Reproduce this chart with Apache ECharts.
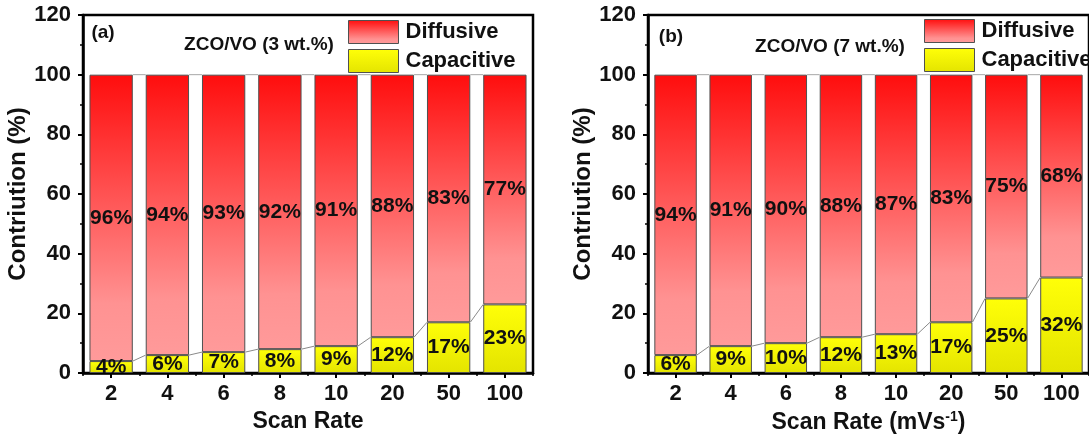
<!DOCTYPE html>
<html>
<head>
<meta charset="utf-8">
<script src="https://cdn.jsdelivr.net/npm/echarts@6/dist/echarts.min.js"></script>
<style>
  html, body { margin: 0; padding: 0; background: #fff; }
  #chart { width: 1089px; height: 441px; }
</style>
</head>
<body>
<div id="chart"></div>
<script>
// Scan rates (mV/s)
const scanRates = ['2', '4', '6', '8', '10', '20', '50', '100'];

// Panel (a): ZCO/VO (3 wt.%)
const capacitiveA = [4, 6, 7, 8, 9, 12, 17, 23];
const diffusiveA = [96, 94, 93, 92, 91, 88, 83, 77];

// Panel (b): ZCO/VO (7 wt.%)
const capacitiveB = [6, 9, 10, 12, 13, 17, 25, 32];
const diffusiveB = [94, 91, 90, 88, 87, 83, 75, 68];

const yTicks = { min: 0, max: 120, interval: 20 };

const FONT = '"Liberation Sans", Arial, sans-serif';
const BAR_RATIO = 0.77;

const diffusiveFill = new echarts.graphic.LinearGradient(0, 0, 0, 1, [
  { offset: 0, color: '#ff0d0d' },
  { offset: 0.8, color: '#ff9292' },
  { offset: 1, color: '#ff9a9a' }
]);
const capacitiveFill = new echarts.graphic.LinearGradient(0, 0, 0, 1, [
  { offset: 0, color: '#ffff08' },
  { offset: 1, color: '#e4e400' }
]);

const barLabel = {
  show: true,
  position: 'inside',
  formatter: '{c}%',
  color: '#111',
  fontFamily: FONT,
  fontWeight: 'bold',
  fontSize: 21
};

// Thin connector lines from the top-right corner of one bar to the top-left corner of the next
function connectorSeries(tops, gridIdx, color) {
  const data = [];
  for (let i = 0; i < tops.length - 1; i++) data.push([i, tops[i], tops[i + 1]]);
  return {
    type: 'custom',
    xAxisIndex: gridIdx * 2,
    yAxisIndex: gridIdx,
    silent: true,
    z: 1,
    encode: { x: 0, y: [1, 2] },
    data: data,
    renderItem: function (params, api) {
      const i = api.value(0);
      const p1 = api.coord([i, api.value(1)]);
      const p2 = api.coord([i + 1, api.value(2)]);
      const half = api.size([1, 0])[0] * BAR_RATIO / 2;
      return {
        type: 'line',
        shape: { x1: p1[0] + half, y1: p1[1], x2: p2[0] - half, y2: p2[1] },
        style: { stroke: color, lineWidth: 1 }
      };
    }
  };
}

function barSeries(name, values, gridIdx, fill) {
  return {
    name: name,
    type: 'bar',
    stack: 'total' + gridIdx,
    xAxisIndex: gridIdx * 2,
    yAxisIndex: gridIdx,
    barWidth: (BAR_RATIO * 100) + '%',
    data: values,
    z: 2,
    itemStyle: { color: fill, borderColor: '#505050', borderWidth: 1 },
    label: barLabel,
    emphasis: { disabled: true }
  };
}

function xAxes(gridIdx, title) {
  return [
    {
      type: 'category',
      gridIndex: gridIdx,
      position: 'bottom',
      data: scanRates,
      boundaryGap: true,
      axisLine: { show: true, lineStyle: { color: '#000', width: 2.5 } },
      axisTick: { show: true, alignWithLabel: true, length: 5, lineStyle: { color: '#000', width: 2 } },
      axisLabel: { color: '#111', fontFamily: FONT, fontWeight: 'bold', fontSize: 22, margin: 10 },
      splitLine: { show: false },
      name: title,
      nameLocation: 'middle',
      nameGap: 36,
      nameTextStyle: {
        color: '#111', fontFamily: FONT, fontWeight: 'bold', fontSize: 23,
        rich: {
          sup: { fontFamily: FONT, fontWeight: 'bold', fontSize: 14, color: '#111', padding: [0, 0, 12, 0] }
        }
      }
    },
    {
      // boundary ticks between categories
      type: 'category',
      gridIndex: gridIdx,
      position: 'bottom',
      data: scanRates,
      boundaryGap: true,
      axisLine: { show: false },
      axisTick: { show: true, alignWithLabel: false, length: 3, lineStyle: { color: '#000', width: 1.5 } },
      axisLabel: { show: false },
      splitLine: { show: false }
    }
  ];
}

function yAxis(gridIdx, gap) {
  return {
    type: 'value',
    gridIndex: gridIdx,
    min: yTicks.min,
    max: yTicks.max,
    interval: yTicks.interval,
    axisLine: { show: true, lineStyle: { color: '#000', width: 2.5 } },
    axisTick: { show: true, length: 5, lineStyle: { color: '#000', width: 2 } },
    minorTick: { show: true, splitNumber: 2, length: 3, lineStyle: { color: '#000', width: 1.5 } },
    axisLabel: { color: '#111', fontFamily: FONT, fontWeight: 'bold', fontSize: 22, margin: 12 },
    splitLine: { show: false },
    name: 'Contriution (%)',
    nameLocation: 'middle',
    nameGap: gap,
    nameTextStyle: { color: '#111', fontFamily: FONT, fontWeight: 'bold', fontSize: 24 }
  };
}

function legendAt(left, top) {
  return {
    data: ['Diffusive', 'Capacitive'],
    orient: 'vertical',
    left: left,
    top: top,
    padding: 0,
    icon: 'rect',
    itemWidth: 50,
    itemHeight: 23,
    itemGap: 5,
    selectedMode: false,
    itemStyle: { borderColor: '#505050', borderWidth: 1 },
    textStyle: { color: '#111', fontFamily: FONT, fontWeight: 'bold', fontSize: 22, padding: [0, 0, 0, 2] }
  };
}

function textAt(x, y, text, size) {
  return {
    type: 'text',
    x: x,
    y: y,
    z: 10,
    style: {
      text: text,
      fill: '#111',
      font: 'bold ' + size + 'px ' + FONT,
      align: 'center',
      verticalAlign: 'middle'
    }
  };
}

const chart = echarts.init(document.getElementById('chart'), null, { renderer: 'canvas' });

const tops = (cap, dif) => cap.map((v, i) => v + dif[i]);

chart.setOption({
  animation: false,
  backgroundColor: '#fff',
  grid: [
    { left: 83, top: 15, width: 450, height: 358, show: true, borderColor: '#000', borderWidth: 2.5, backgroundColor: 'transparent' },
    { left: 648, top: 15, width: 448, height: 358, show: true, borderColor: '#000', borderWidth: 2.5, backgroundColor: 'transparent' }
  ],
  xAxis: [].concat(xAxes(0, 'Scan Rate'), xAxes(1, 'Scan Rate (mVs{sup|-1})')),
  yAxis: [yAxis(0, 50), yAxis(1, 45)],
  legend: [legendAt(348, 20), legendAt(924, 19)],
  series: [
    barSeries('Capacitive', capacitiveA, 0, capacitiveFill),
    barSeries('Diffusive', diffusiveA, 0, diffusiveFill),
    connectorSeries(capacitiveA, 0, '#8a8a8a'),
    connectorSeries(tops(capacitiveA, diffusiveA), 0, '#a8a8a8'),
    barSeries('Capacitive', capacitiveB, 1, capacitiveFill),
    barSeries('Diffusive', diffusiveB, 1, diffusiveFill),
    connectorSeries(capacitiveB, 1, '#8a8a8a'),
    connectorSeries(tops(capacitiveB, diffusiveB), 1, '#a8a8a8')
  ],
  graphic: [
    textAt(103, 33, '(a)', 19),
    textAt(259, 45, 'ZCO/VO (3 wt.%)', 19),
    textAt(671, 37, '(b)', 19),
    textAt(830, 47, 'ZCO/VO (7 wt.%)', 19)
  ]
});
</script>
</body>
</html>
